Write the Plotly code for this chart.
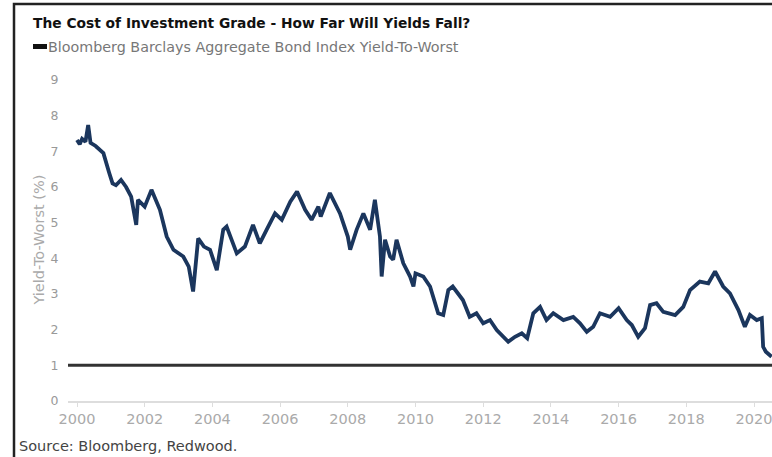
import plotly.graph_objects as go

# Bloomberg Barclays Aggregate Bond Index Yield-To-Worst (%)
years = [
    2000.00, 2000.08, 2000.15, 2000.25, 2000.33, 2000.40, 2000.55, 2000.78, 2000.95,
    2001.05, 2001.15, 2001.30, 2001.45, 2001.60, 2001.75, 2001.80, 2002.00, 2002.20,
    2002.45, 2002.65, 2002.85, 2003.14, 2003.30, 2003.43, 2003.58, 2003.75, 2003.93,
    2004.13, 2004.32, 2004.42, 2004.72, 2004.96, 2005.20, 2005.40, 2005.60, 2005.85,
    2006.05, 2006.30, 2006.50, 2006.74, 2006.93, 2007.13, 2007.20, 2007.47, 2007.77,
    2008.00, 2008.07, 2008.26, 2008.46, 2008.66, 2008.80, 2008.95, 2009.00, 2009.10,
    2009.25, 2009.34, 2009.44, 2009.64, 2009.84, 2009.94, 2010.00, 2010.23, 2010.43,
    2010.67, 2010.82, 2010.97, 2011.10, 2011.40, 2011.60, 2011.80, 2012.00, 2012.20,
    2012.40, 2012.74, 2012.94, 2013.14, 2013.30, 2013.48, 2013.68, 2013.87, 2014.07,
    2014.37, 2014.66, 2014.86, 2015.06, 2015.25, 2015.45, 2015.75, 2016.00, 2016.24,
    2016.39, 2016.58, 2016.78, 2016.93, 2017.12, 2017.32, 2017.67, 2017.91, 2018.11,
    2018.40, 2018.65, 2018.85, 2019.09, 2019.29, 2019.54, 2019.73, 2019.88, 2020.08,
    2020.23, 2020.27, 2020.35, 2020.52,
]
yields = [
    7.32, 7.20, 7.35, 7.27, 7.74, 7.24, 7.15, 6.95, 6.40,
    6.10, 6.05, 6.20, 6.00, 5.73, 4.94, 5.64, 5.45, 5.92,
    5.36, 4.61, 4.24, 4.05, 3.77, 3.07, 4.56, 4.33, 4.24,
    3.67, 4.80, 4.89, 4.14, 4.33, 4.94, 4.42, 4.80, 5.26,
    5.08, 5.59, 5.87, 5.36, 5.08, 5.45, 5.17, 5.83, 5.26,
    4.61, 4.24, 4.80, 5.26, 4.80, 5.64, 4.61, 3.49, 4.52,
    4.05, 3.96, 4.52, 3.86, 3.49, 3.21, 3.58, 3.49, 3.21,
    2.46, 2.41, 3.11, 3.21, 2.83, 2.36, 2.46, 2.18, 2.27,
    1.99, 1.66, 1.80, 1.90, 1.76, 2.46, 2.64, 2.27, 2.46,
    2.27, 2.36, 2.18, 1.94, 2.08, 2.46, 2.36, 2.60, 2.27,
    2.13, 1.80, 2.04, 2.69, 2.74, 2.50, 2.41, 2.64, 3.11,
    3.35, 3.30, 3.63, 3.21, 3.02, 2.55, 2.08, 2.41, 2.27,
    2.32, 1.52, 1.38, 1.24,
]
reference_level = 1.0
x_ticks = [2000, 2002, 2004, 2006, 2008, 2010, 2012, 2014, 2016, 2018, 2020]
y_ticks = [0, 1, 2, 3, 4, 5, 6, 7, 8, 9]

title_text = "The Cost of Investment Grade - How Far Will Yields Fall?"
legend_text = "Bloomberg Barclays Aggregate Bond Index Yield-To-Worst"
source_text = "Source: Bloomberg, Redwood."
y_title = "Yield-To-Worst (%)"

FONT = "DejaVu Sans, sans-serif"

W, H = 772, 457
L, R, T, B = 68, 0, 80, 56
pw, ph = W - L - R, H - T - B
PX_PER_YEAR = 33.85
x_start = 2000 - (77 - L) / PX_PER_YEAR
x_end = x_start + pw / PX_PER_YEAR

def px(xp):
    return (xp - L) / pw

def py(yp):
    return (H - B - yp) / ph

fig = go.Figure()
fig.add_trace(go.Scatter(
    x=years, y=yields, mode="lines",
    line=dict(color="#1b365d", width=3.8),
    hoverinfo="skip", showlegend=False,
))

fig.add_shape(type="line", xref="paper", yref="y",
              x0=0, x1=1.0, y0=reference_level, y1=reference_level,
              line=dict(color="#333333", width=3))

# outer frame (left + top edges)
fig.add_shape(type="rect", xref="paper", yref="paper", layer="above",
              x0=px(14), x1=px(790), y0=py(470), y1=py(4),
              line=dict(color="#222222", width=2.5), fillcolor="rgba(0,0,0,0)")

# legend swatch
fig.add_shape(type="rect", xref="paper", yref="paper",
              x0=px(33), x1=px(47), y0=py(49), y1=py(44),
              line=dict(width=0), fillcolor="#111111")

fig.add_annotation(x=px(31), y=py(23), xref="paper", yref="paper",
                   text="<b>" + title_text + "</b>", showarrow=False,
                   xanchor="left", yanchor="middle",
                   font=dict(family=FONT, size=13.8, color="#111111"))
fig.add_annotation(x=px(46), y=py(47), xref="paper", yref="paper",
                   text=legend_text, showarrow=False,
                   xanchor="left", yanchor="middle",
                   font=dict(family=FONT, size=14.3, color="#777777"))
fig.add_annotation(x=px(17), y=py(446), xref="paper", yref="paper",
                   text=source_text, showarrow=False,
                   xanchor="left", yanchor="middle",
                   font=dict(family=FONT, size=14.5, color="#444444"))
fig.add_annotation(x=px(38), y=0.5, xref="paper", yref="paper",
                   text=y_title, showarrow=False, textangle=-90,
                   xanchor="center", yanchor="middle",
                   font=dict(family=FONT, size=14.5, color="#aaaaaa"))

fig.update_layout(
    width=W, height=H,
    margin=dict(l=L, r=R, t=T, b=B),
    paper_bgcolor="white", plot_bgcolor="white",
    showlegend=False,
    xaxis=dict(range=[x_start, x_end], tickvals=x_ticks,
               ticktext=[str(v) for v in x_ticks],
               showgrid=False, zeroline=False,
               showline=True, linecolor="#dddddd", linewidth=1.5,
               ticks="outside", ticklen=4, tickcolor="#dddddd", tickwidth=1,
               ticklabeloverflow="allow",
               tickfont=dict(family=FONT, size=14.5, color="#aaaaaa"),
               fixedrange=True),
    yaxis=dict(range=[0, 9], tickvals=y_ticks,
               showgrid=False, zeroline=False,
               showline=False, ticks="outside", ticklen=6, tickcolor="rgba(0,0,0,0)",
               tickfont=dict(family=FONT, size=12.5, color="#999999"),
               fixedrange=True),
)

fig.write_html("out.html", config={"displayModeBar": False},
               post_script="document.body.style.margin='0';")
